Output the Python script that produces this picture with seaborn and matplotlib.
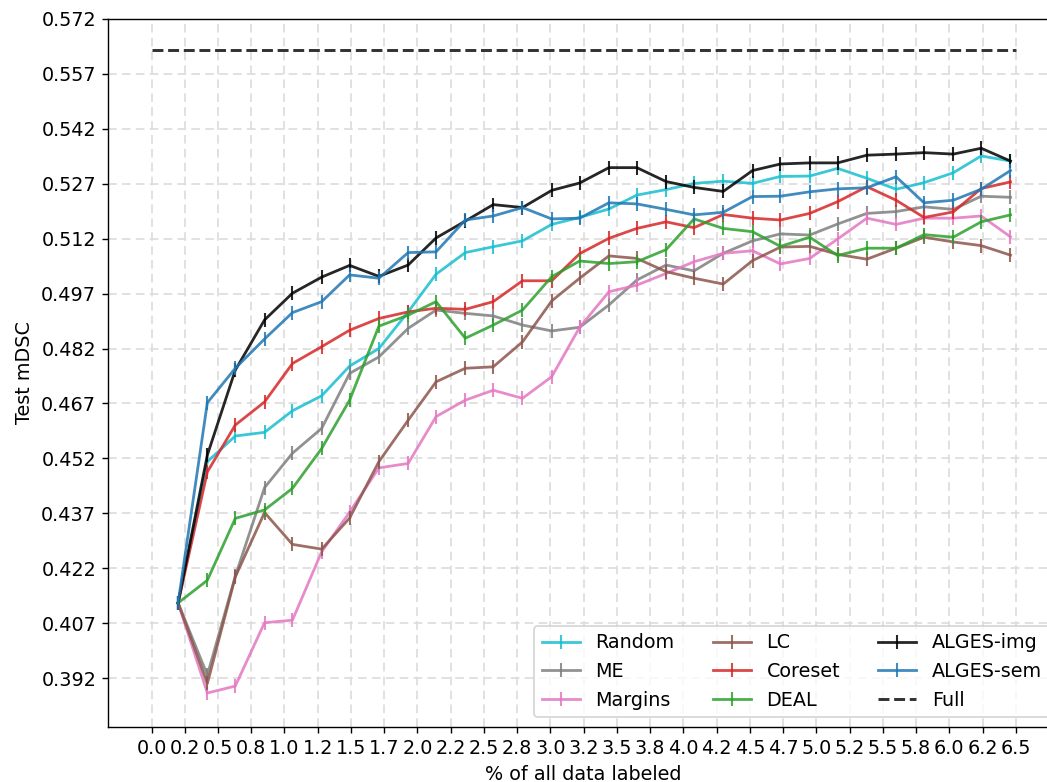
import numpy as np
import pandas as pd
import matplotlib
matplotlib.use("Agg")
import matplotlib.pyplot as plt
import seaborn as sns

# --- data ---
x_pct = [0.20, 0.42, 0.63, 0.85, 1.06, 1.28, 1.49, 1.71, 1.93, 2.14,
         2.36, 2.57, 2.79, 3.01, 3.22, 3.44, 3.65, 3.87, 4.08, 4.30,
         4.52, 4.73, 4.95, 5.16, 5.38, 5.60, 5.81, 6.03, 6.24, 6.46]

random_ = [0.4125, 0.4511, 0.4581, 0.4591, 0.4650, 0.4691, 0.4772, 0.4820, 0.4920, 0.5023,
           0.5082, 0.5098, 0.5114, 0.5159, 0.5178, 0.5201, 0.5239, 0.5254, 0.5271, 0.5277,
           0.5271, 0.5290, 0.5291, 0.5312, 0.5285, 0.5255, 0.5273, 0.5300, 0.5346, 0.5332]
me = [0.4125, 0.3928, 0.4198, 0.4440, 0.4534, 0.4602, 0.4752, 0.4797, 0.4875, 0.4925,
      0.4916, 0.4909, 0.4884, 0.4868, 0.4878, 0.4939, 0.5007, 0.5048, 0.5032, 0.5080,
      0.5114, 0.5133, 0.5130, 0.5160, 0.5189, 0.5194, 0.5207, 0.5200, 0.5236, 0.5233]
margins = [0.4125, 0.3879, 0.3898, 0.4071, 0.4078, 0.4265, 0.4373, 0.4494, 0.4506, 0.4634,
           0.4679, 0.4706, 0.4684, 0.4743, 0.4878, 0.4975, 0.4993, 0.5025, 0.5057, 0.5080,
           0.5087, 0.5051, 0.5066, 0.5119, 0.5176, 0.5159, 0.5176, 0.5176, 0.5182, 0.5125]
lc = [0.4125, 0.3905, 0.4196, 0.4372, 0.4285, 0.4272, 0.4357, 0.4511, 0.4624, 0.4729,
      0.4766, 0.4770, 0.4838, 0.4950, 0.5012, 0.5073, 0.5066, 0.5030, 0.5012, 0.4996,
      0.5060, 0.5097, 0.5099, 0.5077, 0.5064, 0.5094, 0.5124, 0.5111, 0.5101, 0.5075]
coreset = [0.4125, 0.4483, 0.4611, 0.4674, 0.4779, 0.4825, 0.4870, 0.4902, 0.4920, 0.4930,
           0.4927, 0.4948, 0.5005, 0.5005, 0.5079, 0.5121, 0.5148, 0.5166, 0.5150, 0.5186,
           0.5176, 0.5171, 0.5189, 0.5221, 0.5262, 0.5225, 0.5178, 0.5193, 0.5257, 0.5275]
deal = [0.4125, 0.4187, 0.4356, 0.4379, 0.4438, 0.4547, 0.4679, 0.4881, 0.4911, 0.4948,
        0.4848, 0.4884, 0.4925, 0.5016, 0.5059, 0.5052, 0.5057, 0.5090, 0.5174, 0.5148,
        0.5139, 0.5099, 0.5124, 0.5074, 0.5094, 0.5094, 0.5131, 0.5124, 0.5166, 0.5185]
alges_img = [0.4125, 0.4529, 0.4761, 0.4898, 0.4971, 0.5015, 0.5047, 0.5017, 0.5048, 0.5122,
             0.5168, 0.5213, 0.5205, 0.5252, 0.5272, 0.5314, 0.5314, 0.5276, 0.5260, 0.5249,
             0.5306, 0.5324, 0.5327, 0.5327, 0.5348, 0.5351, 0.5355, 0.5351, 0.5367, 0.5332]
alges_sem = [0.4125, 0.4672, 0.4766, 0.4846, 0.4918, 0.4948, 0.5021, 0.5012, 0.5082, 0.5084,
             0.5171, 0.5182, 0.5205, 0.5174, 0.5176, 0.5218, 0.5215, 0.5200, 0.5185, 0.5192,
             0.5235, 0.5236, 0.5248, 0.5256, 0.5259, 0.5289, 0.5218, 0.5225, 0.5255, 0.5306]

full_x = [0.0, 6.5]
full_y = [0.5636, 0.5636]

methods = ["Random", "ME", "Margins", "LC", "Coreset", "DEAL", "ALGES-img", "ALGES-sem"]
series = [random_, me, margins, lc, coreset, deal, alges_img, alges_sem]
colors = ["tab:cyan", "tab:gray", "tab:pink", "tab:brown", "tab:red", "tab:green", "black", "tab:blue"]

xtick_labels = ["0.0", "0.2", "0.5", "0.8", "1.0", "1.2", "1.5", "1.7", "2.0", "2.2", "2.5",
                "2.8", "3.0", "3.2", "3.5", "3.8", "4.0", "4.2", "4.5", "4.7", "5.0", "5.2",
                "5.5", "5.8", "6.0", "6.2", "6.5"]
ytick_vals = [0.392, 0.407, 0.422, 0.437, 0.452, 0.467, 0.482, 0.497, 0.512, 0.527, 0.542, 0.557, 0.572]

plt.rcParams["font.size"] = 11

# --- figure (right edge of the axes runs past the image, like the reference) ---
fig = plt.figure(figsize=(1047 / 125, 782 / 125), dpi=125)
W, H = 1047, 782
ax = fig.add_axes([108.3 / W, (H - 726.7) / H, (1059 - 108.3) / W, (726.7 - 19) / H])

for name, vals, c in zip(methods, series, colors):
    df = pd.DataFrame({"x": x_pct, "y": vals})
    sns.lineplot(data=df, x="x", y="y", ax=ax, color=c, label=name, alpha=0.85,
                 marker="|", markersize=8, markeredgewidth=1.2, markeredgecolor=c,
                 linewidth=1.6)

sns.lineplot(x=full_x, y=full_y, ax=ax, color="black", alpha=0.8, linestyle="--",
             linewidth=1.7, label="Full")

ax.set_xticks(np.arange(len(xtick_labels)) * 0.25)
ax.set_xticklabels(xtick_labels)
ax.set_yticks(ytick_vals)
ax.set_yticklabels([f"{v:.3f}" for v in ytick_vals])
ax.set_xlim(-0.325, 6.825)
ax.set_ylim(0.3787, 0.572)
ax.grid(True, color="#dddddd", linestyle=(0, (5, 3)), linewidth=1)
ax.set_axisbelow(True)
ax.set_xlabel("% of all data labeled")
ax.set_ylabel("Test mDSC")
ax.legend(loc="lower right", ncol=3)

fig.savefig("out.png", dpi=125)
